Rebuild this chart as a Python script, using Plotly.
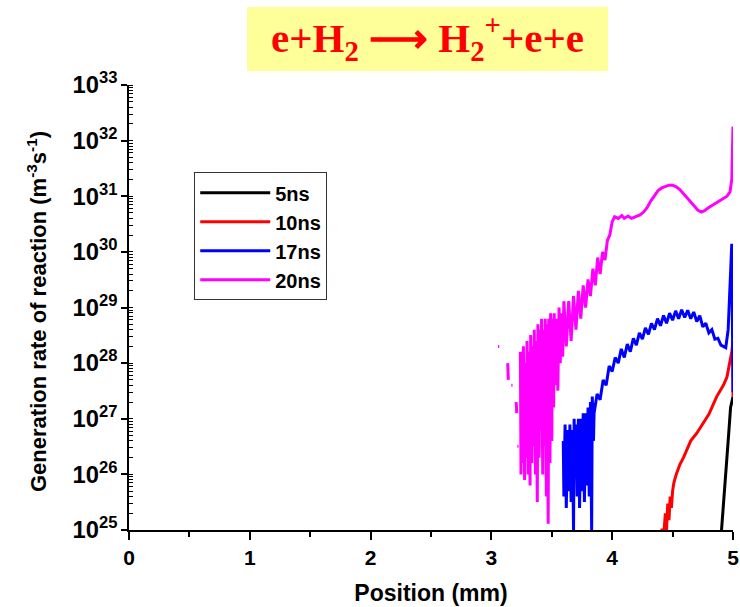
import plotly.graph_objects as go

# ---------------- data ----------------
x_5ns = [4.905, 4.92, 4.935, 4.95, 4.96, 4.97, 4.98, 4.99, 5.00]
y_5ns = [1.0e25, 2.5e25, 6.0e25, 1.5e26, 4.0e26, 8.0e26, 1.6e27, 2.0e27, 2.5e27]

x_10ns = [4.40, 4.43, 4.44, 4.45, 4.46, 4.47, 4.48, 4.49, 4.50, 4.51, 4.53, 4.56, 4.59,
          4.65, 4.70, 4.73, 4.80, 4.865, 4.92, 4.95, 4.975, 4.99, 5.00, 5.00]
y_10ns = [1.0e25, 1.0e25, 2.0e25, 1.0e25, 3.0e25, 1.5e25, 4.0e25, 2.5e25, 5.0e25, 7.0e25, 1.0e26, 1.5e26, 2.0e26,
          4.0e26, 5.5e26, 7.0e26, 1.2e27, 2.5e27, 4.0e27, 5.6e27, 1.1e28, 1.6e28, 2.5e28, 2.5e27]

x_17ns = [3.595, 3.60, 3.61, 3.62, 3.63, 3.64, 3.65, 3.66, 3.67, 3.68, 3.685, 3.69, 3.70, 3.71,
          3.72, 3.73, 3.74, 3.75, 3.76, 3.77, 3.78, 3.79, 3.80, 3.81, 3.82, 3.83, 3.835, 3.845,
          3.85, 3.875, 3.90, 3.925, 3.95, 3.975, 4.00, 4.025, 4.05, 4.075, 4.10, 4.125, 4.15,
          4.175, 4.20, 4.225, 4.25, 4.275, 4.30, 4.325, 4.35, 4.375, 4.40, 4.425, 4.45, 4.475,
          4.50, 4.525, 4.55, 4.575, 4.60, 4.625, 4.65, 4.675, 4.70, 4.725, 4.75, 4.775, 4.80,
          4.825, 4.85, 4.875, 4.90, 4.925, 4.94, 4.96, 4.975, 4.99, 5.00]
y_17ns = [4.0e26, 4.0e25, 7.9e26, 2.5e25, 6.3e26, 5.0e25, 7.9e26, 3.2e25, 6.3e26, 1.0e25, 1.0e27, 1.0e26, 7.9e26, 4.0e25,
          1.0e27, 2.5e25, 1.0e27, 5.0e25, 1.26e27, 3.2e25, 1.26e27, 6.3e25, 1.6e27, 4.0e25, 2.0e27, 1.0e25, 2.5e27, 4.0e26,
          1.26e27, 2.8e27, 2.2e27, 5.0e27, 4.0e27, 8.9e27, 7.1e27, 1.26e28, 1.0e28, 1.8e28, 1.26e28, 2.2e28, 1.6e28,
          2.8e28, 2.1e28, 3.5e28, 2.7e28, 4.3e28, 3.3e28, 5.2e28, 4.0e28, 6.3e28, 4.7e28, 7.2e28, 5.2e28, 7.9e28,
          5.9e28, 8.7e28, 6.3e28, 9.1e28, 6.6e28, 8.9e28, 6.3e28, 8.3e28, 5.6e28, 7.1e28, 4.5e28, 5.2e28, 3.5e28,
          4.0e28, 2.7e28, 2.8e28, 2.1e28, 2.0e28, 1.9e28, 4.0e28, 2.0e29, 1.4e30, 3.0e27]

x_20ns = [3.055, 3.065, None, 3.135, 3.14, None, 3.165, 3.175, None, 3.205, 3.21, None, 3.215, 3.225, None,
          3.24, 3.245, 3.25, 3.26, 3.265, 3.275, 3.28, 3.29, 3.295, 3.305, 3.31, 3.32, 3.325, 3.335,
          3.34, 3.35, 3.355, 3.365, 3.37, 3.38, 3.385, 3.395, 3.40, 3.41, 3.415, 3.425, 3.43, 3.44,
          3.445, 3.455, 3.46, 3.47, 3.475, 3.485, 3.49, 3.50, 3.505, 3.515, 3.52, 3.53, 3.54, 3.55,
          3.56, 3.57, 3.58, 3.59, 3.60, 3.62, 3.64, 3.66, 3.68, 3.70, 3.72, 3.74, 3.76, 3.78, 3.80,
          3.82, 3.84, 3.86, 3.88, 3.90, 3.92, 3.94, 3.96, 3.98, 4.00, 4.02, 4.05, 4.08, 4.10, 4.13,
          4.16, 4.20, 4.23, 4.26, 4.29, 4.32, 4.35, 4.38, 4.41, 4.44, 4.47, 4.50, 4.53, 4.56, 4.59,
          4.62, 4.65, 4.68, 4.71, 4.74, 4.77, 4.80, 4.83, 4.86, 4.89, 4.92, 4.95, 4.975, 4.99, 5.00]
y_20ns = [2.0e28, 2.0e28, None, 1.0e28, 5.0e27, None, 4.0e27, 4.0e27, None, 2.0e27, 1.26e27, None, 3.2e26, 3.2e26, None,
          1.6e28, 1.0e26, 1.3e28, 1.6e26, 2.0e28, 7.9e25, 1.0e28, 2.0e26, 2.5e28, 1.0e26, 1.6e28, 6.3e25, 3.2e28, 1.6e26,
          2.0e28, 3.2e26, 4.0e28, 1.0e26, 2.5e28, 3.2e25, 5.0e28, 2.0e26, 4.0e28, 6.3e26, 6.3e28, 1.0e26, 4.0e28, 3.2e26,
          6.3e28, 4.0e25, 5.0e28, 1.3e25, 6.3e28, 1.6e26, 7.9e28, 4.0e26, 6.3e28, 1.6e27, 7.9e28, 4.0e27, 6.3e28, 3.2e27,
          1.0e29, 1.0e28, 7.9e28, 1.3e28, 1.3e29, 2.0e28, 1.3e29, 2.5e28, 1.6e29, 4.0e28, 2.0e29, 6.3e28, 2.5e29, 1.0e29, 3.2e29,
          1.6e29, 5.0e29, 2.5e29, 7.9e29, 4.0e29, 1.0e30, 7.1e29, 1.6e30, 2.0e30, 3.5e30, 4.3e30, 4.0e30, 4.5e30, 4.0e30, 4.4e30,
          4.0e30, 4.4e30, 4.6e30, 5.2e30, 6.3e30, 8.3e30, 1.05e31, 1.26e31, 1.41e31, 1.51e31, 1.58e31, 1.58e31, 1.48e31, 1.32e31, 1.12e31,
          9.3e30, 7.9e30, 6.6e30, 5.6e30, 5.2e30, 5.6e30, 6.3e30, 6.9e30, 7.6e30, 8.3e30, 9.1e30, 1.0e31, 1.2e31, 2.0e31, 1.8e32]

series_names = ["5ns", "10ns", "17ns", "20ns"]
series_colors = ["#000000", "#FF0000", "#0000FF", "#FF00FF"]
series_x = [x_5ns, x_10ns, x_17ns, x_20ns]
series_y = [y_5ns, y_10ns, y_17ns, y_20ns]

x_ticks = [0, 1, 2, 3, 4, 5]

# ---------------- figure ----------------
fig = go.Figure()
for name, color, xs, ys in zip(series_names, series_colors, series_x, series_y):
    fig.add_trace(go.Scatter(x=xs, y=ys, name=name, mode="lines",
                             line=dict(color=color, width=3), connectgaps=False))

FONT = "Liberation Sans, Arial, sans-serif"

fig.update_layout(
    width=740, height=607,
    margin=dict(l=129, r=7, t=85, b=77, autoexpand=False),
    paper_bgcolor="white", plot_bgcolor="white",
    font=dict(family=FONT, color="black"),
    showlegend=True,
    legend=dict(x=0.108, y=0.804, xanchor="left", yanchor="top",
                bgcolor="white", bordercolor="#333333", borderwidth=1,
                itemwidth=70,
                font=dict(family=FONT, size=20, weight="bold", color="black"),
                tracegroupgap=0),
)

fig.update_xaxes(
    range=[0, 5], tickvals=x_ticks, ticks="outside", ticklen=8, tickwidth=1.5,
    tickcolor="black", showline=True, linecolor="black", linewidth=1.5,
    showgrid=False, zeroline=False, automargin=False,
    tickfont=dict(family=FONT, size=21, weight="bold", color="black"),
    minor=dict(dtick=0.5, ticks="outside", ticklen=5, tickwidth=1.5, tickcolor="black", showgrid=False),
    title=dict(text="Position (mm)", font=dict(family=FONT, size=23, weight="bold", color="black"), standoff=17),
)

fig.update_yaxes(
    type="log", range=[25, 33], dtick=1, exponentformat="power",
    ticks="outside", ticklen=6, tickwidth=1.5, tickcolor="black",
    showline=True, linecolor="black", linewidth=1.5, showgrid=False, zeroline=False, automargin=False,
    tickfont=dict(family=FONT, size=19, weight="bold", color="black"),
    minor=dict(dtick="D1", ticks="inside", ticklen=4, tickwidth=1, tickcolor="black", showgrid=False),
)

# y-axis title placed precisely
fig.add_annotation(xref="paper", yref="paper", x=(37 - 129) / 604, y=(530 - 312) / 445,
                   xanchor="center", yanchor="middle", showarrow=False, textangle=-90,
                   text="Generation rate of reaction (m<sup>-3</sup>s<sup>-1</sup>)",
                   font=dict(family=FONT, size=22, weight="bold", color="black"))

# title box
fig.add_shape(type="rect", xref="paper", yref="paper",
              x0=(247 - 129) / 604, x1=(608 - 129) / 604,
              y0=(530 - 71) / 445, y1=(530 - 7) / 445,
              fillcolor="#FFFF99", line=dict(width=0), layer="below")
fig.add_annotation(xref="paper", yref="paper", x=(427 - 129) / 604, y=(530 - 38) / 445,
                   xanchor="center", yanchor="middle", showarrow=False,
                   text="e+H<sub>2</sub> ⟶ H<sub>2</sub><sup>+</sup>+e+e",
                   font=dict(family="Liberation Serif, Times New Roman, serif", size=41,
                             weight="bold", color="#FF0000"))

fig.write_html("out.html")
